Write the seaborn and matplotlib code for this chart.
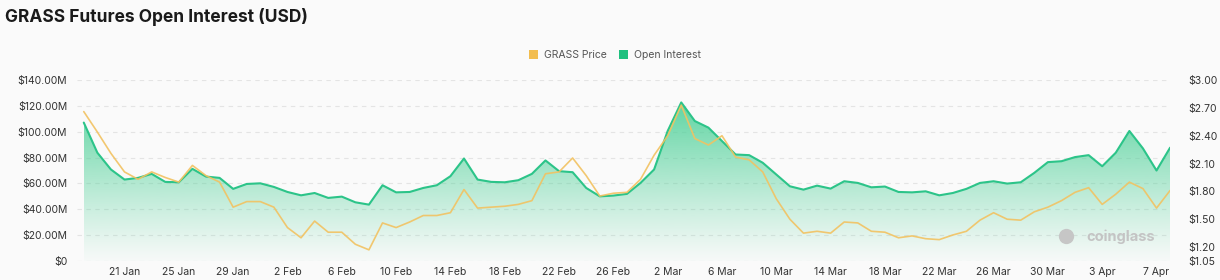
import matplotlib

matplotlib.use("Agg")

import matplotlib.dates as mdates
import matplotlib.pyplot as plt
import numpy as np
import pandas as pd
import seaborn as sns
from matplotlib.colors import to_rgb
from matplotlib.patches import Patch

# daily values, 18 Jan .. 8 Apr
dates = pd.date_range("2025-01-18", periods=81, freq="D")
open_interest = [  # million USD
    107.1, 83.8, 70.8, 63.0, 64.3, 67.4, 61.2, 60.9, 71.3, 65.3,
    64.3, 55.8, 59.6, 60.1, 57.3, 53.4, 50.8, 52.6, 48.8, 49.8,
    45.4, 43.6, 58.6, 53.1, 53.4, 56.5, 58.6, 65.6, 79.3, 63.0,
    61.2, 60.9, 62.5, 67.4, 77.8, 69.5, 68.7, 56.5, 50.0, 50.6,
    51.9, 60.4, 70.8, 100.6, 122.7, 108.3, 103.2, 92.8, 82.4, 81.9,
    76.0, 66.9, 57.8, 55.2, 58.3, 56.0, 61.7, 60.4, 57.0, 57.6,
    53.4, 53.1, 53.9, 50.8, 52.6, 55.8, 60.4, 61.7, 59.9, 60.9,
    68.2, 76.5, 77.2, 80.4, 81.9, 73.3, 83.8, 100.6, 87.1, 70.0,
    87.7,
]
grass_price = [  # USD
    2.66, 2.44, 2.21, 2.01, 1.93, 2.01, 1.95, 1.90, 2.08, 1.97,
    1.90, 1.63, 1.69, 1.69, 1.63, 1.41, 1.30, 1.48, 1.36, 1.36,
    1.23, 1.17, 1.46, 1.41, 1.47, 1.54, 1.54, 1.57, 1.82, 1.62,
    1.63, 1.64, 1.66, 1.70, 1.99, 2.01, 2.16, 1.97, 1.75, 1.78,
    1.79, 1.93, 2.19, 2.40, 2.73, 2.37, 2.30, 2.40, 2.17, 2.14,
    2.01, 1.72, 1.50, 1.35, 1.37, 1.35, 1.47, 1.46, 1.37, 1.36,
    1.30, 1.32, 1.29, 1.28, 1.33, 1.37, 1.49, 1.57, 1.50, 1.49,
    1.58, 1.63, 1.70, 1.79, 1.84, 1.66, 1.77, 1.90, 1.83, 1.62,
    1.81,
]
x_ticks = pd.date_range("2025-01-21", "2025-04-07", freq="4D")
oi_ticks = [0, 20, 40, 60, 80, 100, 120, 140]
price_ticks = [1.05, 1.20, 1.50, 1.80, 2.10, 2.40, 2.70, 3.00]

BG = "#fafafa"
OI_LINE = "#2cc489"
OI_FILL = "#4fd199"
PRICE_LINE = "#f2c261"

sns.set_theme(style="white")
plt.rcParams["font.family"] = ["Inter", "DejaVu Sans"]

fig = plt.figure(figsize=(12.2, 2.8), dpi=100, facecolor=BG)
ax = fig.add_axes([0.0631, 0.068, 0.896, 0.646])
ax.set_facecolor(BG)

x_num = mdates.date2num(dates)
x0 = x_num[0] - 0.5
x1 = x_num[-1]

# gradient area under open interest
top = max(open_interest)
grad = np.linspace(0, 1, 256)[:, None]
rgba = np.zeros((256, 1, 4))
rgba[..., :3] = to_rgb(OI_FILL)
rgba[..., 3] = 0.02 + 0.88 * grad ** 1.1
im = ax.imshow(rgba, aspect="auto", extent=[x_num[0], x1, 0, top],
               origin="lower", zorder=1, interpolation="bilinear")
poly = ax.fill_between(dates, open_interest, 0, facecolor="none", edgecolor="none")
im.set_clip_path(poly.get_paths()[0], transform=ax.transData)

sns.lineplot(x=dates, y=open_interest, ax=ax, color=OI_LINE, linewidth=1.5, zorder=3)

ax.set_xlim(x0, x1)
ax.set_ylim(0, 140)
ax.set_yticks(oi_ticks)
ax.set_yticklabels(["$0"] + [f"${v:.2f}M" for v in oi_ticks[1:]])
ax.set_xticks(x_ticks)
ax.set_xticklabels([f"{d.day} {d.strftime('%b')}" for d in x_ticks])
ax.grid(axis="y", color="#e4e4e4", linewidth=0.8, linestyle=(0, (4, 4)))
ax.set_axisbelow(True)
ax.set_xlabel("")
ax.set_ylabel("")
ax.tick_params(axis="both", length=0, labelsize=7.5, labelcolor="#333333")
ax.tick_params(axis="y", pad=7)
ax.tick_params(axis="x", pad=4)
for s in ax.spines.values():
    s.set_visible(False)

ax2 = ax.twinx()
sns.lineplot(x=dates, y=grass_price, ax=ax2, color=PRICE_LINE, linewidth=1.2, alpha=0.9)
ax2.set_xlim(x0, x1)
ax2.set_ylim(1.05, 3.00)
ax2.set_yticks(price_ticks)
ax2.set_yticklabels([f"${v:.2f}" for v in price_ticks])
ax2.set_ylabel("")
ax2.tick_params(axis="y", length=0, labelsize=7.5, labelcolor="#333333", pad=13)
ax2.grid(False)
for s in ax2.spines.values():
    s.set_visible(False)

# watermark
ax2.plot([0.905], [0.14], marker="o", markersize=11, color="#c6c6c6",
         markeredgewidth=0, transform=ax2.transAxes, zorder=0)
ax2.text(0.986, 0.135, "coinglass", transform=ax2.transAxes, ha="right", va="center",
         fontsize=10.5, fontweight="bold", color="#c4c4c4", zorder=0)

fig.text(0.004, 0.94, "GRASS Futures Open Interest (USD)", fontsize=12.5,
         fontweight="bold", color="#1a1a1a", va="center", ha="left")

handles = [Patch(facecolor="#f2bd4f", edgecolor="none", label="GRASS Price"),
           Patch(facecolor="#1fc07f", edgecolor="none", label="Open Interest")]
fig.legend(handles=handles, loc="center", bbox_to_anchor=(0.504, 0.804), ncol=2,
           frameon=False, fontsize=7.5, handlelength=0.9, handleheight=0.9,
           handletextpad=0.5, columnspacing=1.2, labelcolor="#555555")

fig.savefig("out.png", dpi=100, facecolor=BG)
